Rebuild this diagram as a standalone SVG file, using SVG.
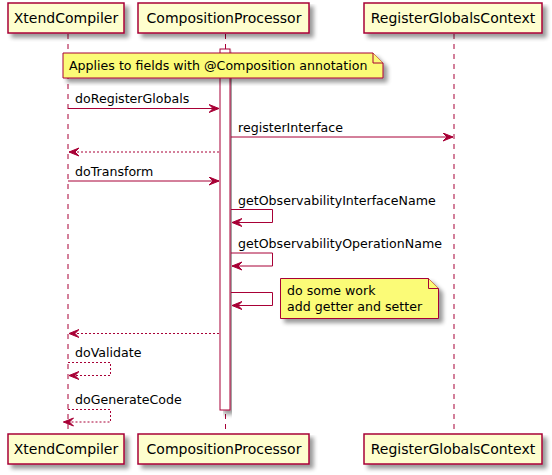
<svg xmlns="http://www.w3.org/2000/svg" width="552" height="475" viewBox="0 0 552 475">
  <defs>
    <filter id="shadow" x="-10%" y="-10%" width="130%" height="140%">
      <feGaussianBlur in="SourceAlpha" stdDeviation="2"/>
      <feOffset dx="4" dy="4" result="b"/>
      <feComponentTransfer in="b" result="s"><feFuncA type="linear" slope="0.4"/></feComponentTransfer>
      <feMerge><feMergeNode in="s"/><feMergeNode in="SourceGraphic"/></feMerge>
    </filter>
    <marker id="arrow" markerWidth="11" markerHeight="10" refX="10" refY="4.5" orient="auto" markerUnits="userSpaceOnUse">
      <polygon points="0,0.5 10,4.5 0,8.5 4,4.5" fill="#A80036" stroke="#A80036" stroke-width="1"/>
    </marker>
  </defs>
  <style>
    .box { fill: #FEFECE; stroke: #A80036; stroke-width: 1.5; }
    .life { stroke: #A80036; stroke-width: 1; stroke-dasharray: 5,5; fill: none; }
    .act { fill: #FFFFFF; stroke: #A80036; stroke-width: 1; }
    .note { fill: #FBFB77; stroke: #A80036; stroke-width: 1; }
    .msg { stroke: #A80036; stroke-width: 1; fill: none; marker-end: url(#arrow); }
    .ret { stroke-dasharray: 2,2; }
    .pname { font-family: "DejaVu Sans", sans-serif; font-size: 14px; fill: #000; text-anchor: middle; }
    .label { font-family: "DejaVu Sans", sans-serif; font-size: 12.6px; fill: #000; }
  </style>

  <g id="lifelines">
    <line class="life" x1="68" y1="34" x2="68" y2="434"/>
    <line class="life" x1="225.5" y1="34" x2="225.5" y2="434"/>
    <line class="life" x1="454" y1="34" x2="454" y2="434"/>
  </g>

  <g id="activation-CompositionProcessor">
    <rect class="act" x="220" y="49" width="10" height="361" filter="url(#shadow)"/>
  </g>

  <g id="participant-XtendCompiler-top">
    <rect class="box" x="8" y="3" width="116" height="30" filter="url(#shadow)"/>
    <text class="pname" x="66" y="23">XtendCompiler</text>
  </g>
  <g id="participant-CompositionProcessor-top">
    <rect class="box" x="138" y="3" width="171" height="30" filter="url(#shadow)"/>
    <text class="pname" x="224" y="23">CompositionProcessor</text>
  </g>
  <g id="participant-RegisterGlobalsContext-top">
    <rect class="box" x="364" y="3" width="178" height="30" filter="url(#shadow)"/>
    <text class="pname" x="453" y="23">RegisterGlobalsContext</text>
  </g>

  <g id="note-composition">
    <path class="note" d="M63,53 H373 L383,63 V78 H63 Z" filter="url(#shadow)"/>
    <path class="note" d="M373,53 V63 H383" fill="none"/>
    <text class="label" x="69" y="70">Applies to fields with @Composition annotation</text>
  </g>

  <g id="connectors">
    <line class="msg" x1="68" y1="108.5" x2="219" y2="108.5"/>
    <text class="label" x="75" y="103">doRegisterGlobals</text>

    <line class="msg" x1="231" y1="137" x2="453" y2="137"/>
    <text class="label" x="238" y="132">registerInterface</text>

    <line class="msg ret" x1="219" y1="152" x2="69" y2="152"/>

    <line class="msg" x1="68" y1="181" x2="219" y2="181"/>
    <text class="label" x="75" y="176">doTransform</text>

    <path class="msg" d="M231,209.5 H272.5 V222.5 H232"/>
    <text class="label" x="238" y="205">getObservabilityInterfaceName</text>

    <path class="msg" d="M231,253 H272.5 V266 H232"/>
    <text class="label" x="238" y="248">getObservabilityOperationName</text>

    <path class="msg" d="M231,292.5 H272.5 V305.5 H232"/>

    <line class="msg ret" x1="219" y1="333.5" x2="69" y2="333.5"/>

    <path class="msg ret" d="M68,362.5 H110.5 V375.5 H69"/>
    <text class="label" x="75" y="357">doValidate</text>

    <path class="msg ret" d="M68,409.5 H110.5 V422 H63.5"/>
    <text class="label" x="75" y="404">doGenerateCode</text>
  </g>

  <g id="note-work">
    <path class="note" d="M280.5,278.5 H428.5 L438.5,288.5 V318.5 H280.5 Z" filter="url(#shadow)"/>
    <path class="note" d="M428.5,278.5 V288.5 H438.5" fill="none"/>
    <text class="label" x="287" y="295">do some work</text>
    <text class="label" x="287" y="311">add getter and setter</text>
  </g>

  <g id="participant-XtendCompiler-bottom">
    <rect class="box" x="8" y="434" width="116" height="30" filter="url(#shadow)"/>
    <text class="pname" x="66" y="454">XtendCompiler</text>
  </g>
  <g id="participant-CompositionProcessor-bottom">
    <rect class="box" x="138" y="434" width="171" height="30" filter="url(#shadow)"/>
    <text class="pname" x="224" y="454">CompositionProcessor</text>
  </g>
  <g id="participant-RegisterGlobalsContext-bottom">
    <rect class="box" x="364" y="434" width="178" height="30" filter="url(#shadow)"/>
    <text class="pname" x="453" y="454">RegisterGlobalsContext</text>
  </g>
</svg>
